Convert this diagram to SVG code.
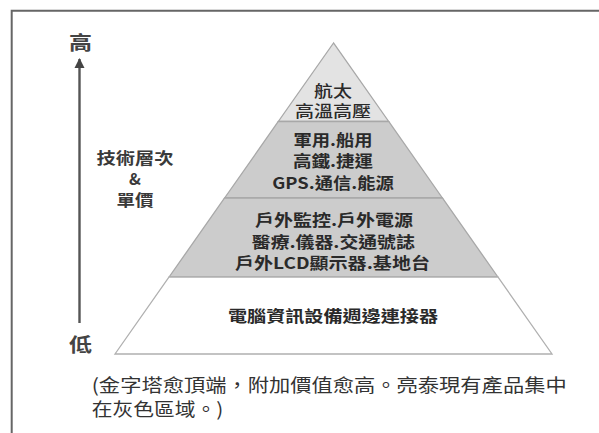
<svg xmlns="http://www.w3.org/2000/svg" width="599" height="433" viewBox="0 0 599 433">
<style>
  text { font-family: "Noto Sans CJK TC", "Noto Sans CJK SC", "Liberation Sans", sans-serif; text-anchor: middle; }
  .lvl { font-size: 16px; font-weight: bold; fill: #2a2a2a; }
  .lvlr { font-size: 16px; font-weight: 500; fill: #2a2a2a; }
  .axis { font-size: 19px; font-weight: bold; fill: #444; }
  .side { font-size: 16px; font-weight: bold; fill: #3a3a3a; }
  .cap { font-size: 18.5px; fill: #333; text-anchor: start; }
  .light { fill: #e3e3e3; stroke: #a8a8a8; stroke-width: 1.3; }
  .mid { fill: #cccccc; stroke: #a8a8a8; stroke-width: 1.3; }
  .base { fill: #ffffff; stroke: #b0b0b0; stroke-width: 1.3; }
</style>
<defs>
  <marker id="arr" viewBox="0 0 10 10" refX="9" refY="5" markerWidth="4.2" markerHeight="4.2" orient="auto" markerUnits="strokeWidth">
    <path d="M0,0 L10,5 L0,10 Z" fill="#444"/>
  </marker>
</defs>
<rect width="599" height="433" fill="#ffffff"/>
<path d="M11.7,433 V10.7 H599" fill="none" stroke="#666" stroke-width="2"/>

<g id="connectors">
  <line x1="79.5" y1="323" x2="79.5" y2="59" stroke="#555" stroke-width="2.4" marker-end="url(#arr)"/>
</g>

<g id="label-high"><text class="axis" x="80.5" y="50" textLength="23" lengthAdjust="spacingAndGlyphs">高</text></g>
<g id="label-low"><text class="axis" x="80.5" y="352" textLength="23" lengthAdjust="spacingAndGlyphs">低</text></g>
<g id="label-side">
  <text class="side" x="135" y="164" textLength="77" lengthAdjust="spacingAndGlyphs">技術層次</text>
  <text class="side" x="135" y="185">&amp;</text>
  <text class="side" x="135" y="206" textLength="37" lengthAdjust="spacingAndGlyphs">單價</text>
</g>

<g id="layer-top">
  <polygon class="light" points="333.5,43 278.3,121.5 388.7,121.5"/>
  <text class="lvlr" x="333" y="97" textLength="38" lengthAdjust="spacingAndGlyphs">航太</text>
  <text class="lvlr" x="333" y="116.5" textLength="76" lengthAdjust="spacingAndGlyphs">高溫高壓</text>
</g>
<g id="layer-2">
  <polygon class="mid" points="278.3,121.5 388.7,121.5 442.4,198 224.6,198"/>
  <text class="lvl" x="333" y="146" textLength="79" lengthAdjust="spacingAndGlyphs">軍用.船用</text>
  <text class="lvl" x="333" y="167" textLength="80" lengthAdjust="spacingAndGlyphs">高鐵.捷運</text>
  <text class="lvl" x="333" y="188.5" textLength="121.6" lengthAdjust="spacingAndGlyphs">GPS.通信.能源</text>
</g>
<g id="layer-3">
  <polygon class="mid" points="224.6,198 442.4,198 497.9,277 169.1,277"/>
  <text class="lvl" x="334" y="226" textLength="158" lengthAdjust="spacingAndGlyphs">戶外監控.戶外電源</text>
  <text class="lvl" x="333.3" y="247.5" textLength="163" lengthAdjust="spacingAndGlyphs">醫療.儀器.交通號誌</text>
  <text class="lvl" x="332.5" y="269" textLength="195" lengthAdjust="spacingAndGlyphs">戶外LCD顯示器.基地台</text>
</g>
<g id="layer-base">
  <polygon class="base" points="169.1,277 497.9,277 552,354 115,354"/>
  <text class="lvl" x="333" y="322" textLength="210" lengthAdjust="spacingAndGlyphs">電腦資訊設備週邊連接器</text>
</g>

<g id="caption">
  <text class="cap" x="91.7" y="392" textLength="475" lengthAdjust="spacingAndGlyphs">(金字塔愈頂端，附加價值愈高。亮泰現有產品集中</text>
  <text class="cap" x="91.7" y="416" textLength="131.6" lengthAdjust="spacingAndGlyphs">在灰色區域。)</text>
</g>
</svg>
